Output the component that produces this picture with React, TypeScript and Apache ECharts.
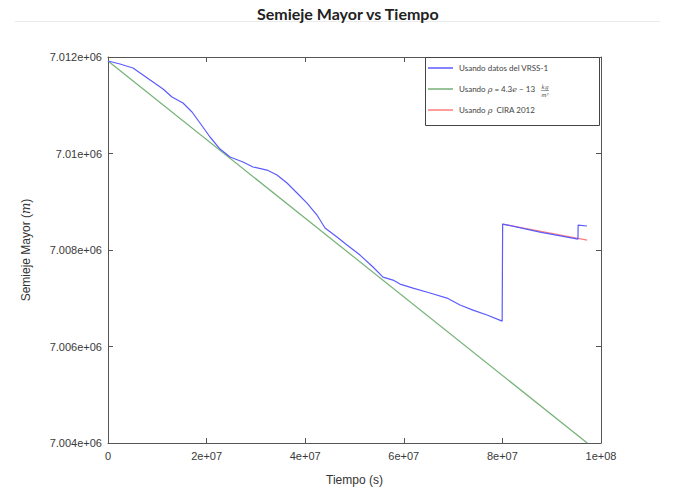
import React, { useEffect, useRef } from "react";
import * as echarts from "echarts";

const blueTime = [0, 2.43e6, 5.07e6, 7.1e6, 9.13e6, 1.116e7, 1.298e7, 1.521e7, 1.704e7, 1.866e7, 2.069e7, 2.272e7, 2.475e7, 2.738e7, 2.941e7, 3.225e7, 3.428e7, 3.631e7, 3.834e7, 4.037e7, 4.239e7, 4.402e7, 4.645e7, 4.848e7, 5.112e7, 5.375e7, 5.578e7, 5.781e7, 5.923e7, 6.187e7, 6.531e7, 6.876e7, 7.14e7, 7.404e7, 7.688e7, 7.995e7, 8.005e7, 8.763e7, 9.533e7, 9.536e7, 9.716e7];
const blueValue = [7011917, 7011855, 7011772, 7011627, 7011482, 7011337, 7011171, 7011046, 7010860, 7010632, 7010342, 7010093, 7009927, 7009823, 7009720, 7009657, 7009554, 7009388, 7009181, 7008973, 7008725, 7008455, 7008269, 7008103, 7007895, 7007647, 7007439, 7007377, 7007294, 7007211, 7007108, 7007004, 7006859, 7006755, 7006652, 7006527, 7008538, 7008372, 7008227, 7008517, 7008497];
const greenTime = [0, 9.72e7];
const greenValue = [7011917, 7004000];
const redTime = [8.005e7, 9.72e7];
const redValue = [7008538, 7008206];

const seriesNames = ["Usando datos del VRSS-1", "Usando ρ = 4.3e − 13", "Usando ρ  CIRA 2012"];
const legendRich = ["Usando datos del VRSS-1", "Usando {i|ρ} = 4.3{i|e} − 13", "Usando {i|ρ}  CIRA 2012"];

const xTickValues = [0, 2e7, 4e7, 6e7, 8e7, 1e8];
const xTickLabels = ["0", "2e+07", "4e+07", "6e+07", "8e+07", "1e+08"];
const yTickValues = [7004000, 7006000, 7008000, 7010000, 7012000];
const yTickLabels = ["7.004e+06", "7.006e+06", "7.008e+06", "7.01e+06", "7.012e+06"];

const zip = (a: number[], b: number[]) => a.map((v, i) => [v, b[i]]);
const lookup = (vals: number[], labels: string[]) => (v: number) => {
  const i = vals.findIndex((t) => Math.abs(t - v) < 1e-6 * Math.max(1, Math.abs(t)));
  return i >= 0 ? labels[i] : "";
};

export default function App() {
  const ref = useRef<HTMLDivElement>(null);
  useEffect(() => {
    if (!ref.current) return;
    const chart = echarts.init(ref.current, null, { renderer: "svg" });
    const axisColor = "#555";
    const font = "Liberation Sans";
    const common = {
      axisLine: { show: true, onZero: false, lineStyle: { color: axisColor, width: 1 } },
      axisTick: { show: true, inside: true, length: 5, lineStyle: { color: axisColor } },
      splitLine: { show: false },
    };
    const colors = ["#5b5bff", "#76b276", "#ff7d7d"];
    chart.setOption({
      animation: false,
      backgroundColor: "#fff",
      title: {
        text: "Semieje Mayor vs Tiempo",
        left: 257,
        top: 5,
        padding: 0,
        textStyle: { fontFamily: "Lato", fontWeight: "bold", fontSize: 16, color: "#222" },
      },
      grid: { left: 108, right: 73, top: 57, bottom: 53 },
      xAxis: [
        {
          type: "value", min: 0, max: 1e8, interval: 2e7, position: "bottom", ...common,
          axisLabel: { formatter: lookup(xTickValues, xTickLabels), color: "#3a3a3a", fontSize: 11, fontFamily: font, margin: 7 },
          name: "Tiempo (s)", nameLocation: "middle", nameGap: 31,
          nameTextStyle: { color: "#333", fontSize: 12, fontFamily: font },
        },
        { type: "value", min: 0, max: 1e8, interval: 2e7, position: "top", ...common, axisLabel: { show: false } },
      ],
      yAxis: [
        {
          type: "value", min: 7004000, max: 7012000, interval: 2000, position: "left", ...common,
          axisLabel: { formatter: lookup(yTickValues, yTickLabels), color: "#3a3a3a", fontSize: 11, fontFamily: font, margin: 6 },
          name: "Semieje Mayor ({i|m})", nameLocation: "middle", nameGap: 76,
          nameTextStyle: {
            color: "#333", fontSize: 12, fontFamily: font,
            rich: { i: { fontStyle: "italic", fontFamily: "DejaVu Serif", fontSize: 12, color: "#333" } },
          },
        },
        { type: "value", min: 7004000, max: 7012000, interval: 2000, position: "right", ...common, axisLabel: { show: false } },
      ],
      legend: {
        orient: "vertical",
        left: 428,
        top: 64,
        padding: 0,
        icon: "rect",
        itemWidth: 25,
        itemHeight: 1.5,
        itemGap: 13,
        z: 10,
        data: seriesNames,
        formatter: (name: string) => legendRich[seriesNames.indexOf(name)],
        textStyle: {
          fontFamily: "Lato", fontSize: 8, color: "#444", padding: [0, 0, 0, 1],
          rich: { i: { fontStyle: "italic", fontFamily: "DejaVu Serif", fontSize: 8, color: "#444" } },
        },
      },
      graphic: [
        { type: "line", shape: { x1: 15, y1: 21.5, x2: 660, y2: 21.5 }, style: { stroke: "#ebebeb", lineWidth: 1 }, z: 0 },
        { type: "rect", shape: { x: 425.5, y: 57.5, width: 174, height: 68 }, style: { fill: "#fff", stroke: "#444", lineWidth: 1 }, z: 5 },
        { type: "text", x: 545, y: 86.5, style: { text: "kg", fontSize: 5.5, fontStyle: "italic", fontFamily: "DejaVu Serif", fill: "#444", align: "center", verticalAlign: "middle" }, z: 11 },
        { type: "line", shape: { x1: 541, y1: 90.5, x2: 549, y2: 90.5 }, style: { stroke: "#444", lineWidth: 0.5 }, z: 11 },
        { type: "text", x: 545, y: 94.5, style: { text: "m³", fontSize: 5.5, fontStyle: "italic", fontFamily: "DejaVu Serif", fill: "#444", align: "center", verticalAlign: "middle" }, z: 11 },
      ],
      series: [
        {
          name: seriesNames[0], type: "line", data: zip(blueTime, blueValue), symbol: "none",
          lineStyle: { color: colors[0], width: 1.2 }, itemStyle: { color: colors[0] }, z: 3,
        },
        {
          name: seriesNames[1], type: "line", data: zip(greenTime, greenValue), symbol: "none",
          lineStyle: { color: colors[1], width: 1.2 }, itemStyle: { color: colors[1] }, z: 2,
        },
        {
          name: seriesNames[2], type: "line", data: zip(redTime, redValue), symbol: "none",
          lineStyle: { color: colors[2], width: 1.2 }, itemStyle: { color: colors[2] }, z: 2,
        },
      ],
    });
    return () => chart.dispose();
  }, []);
  return (
    <div
      ref={ref}
      style={{ position: "fixed", left: 0, top: 0, width: 674, height: 496, background: "#fff" }}
    />
  );
}
